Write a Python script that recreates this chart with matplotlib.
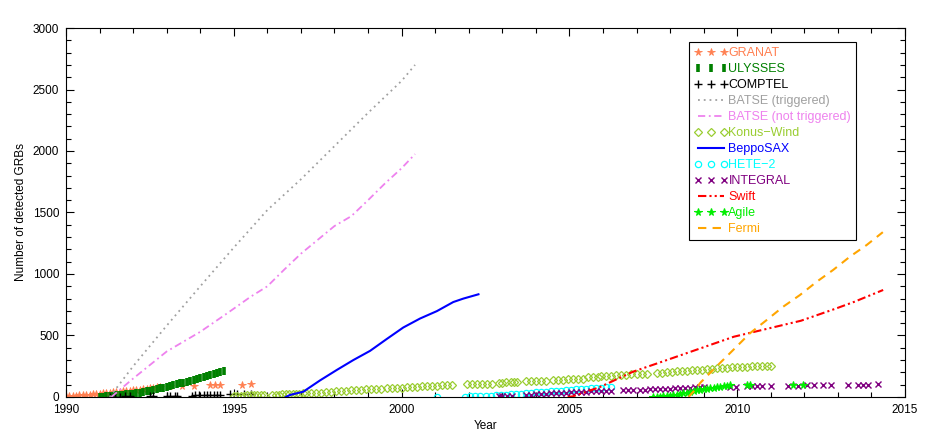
import matplotlib
matplotlib.use("Agg")
import matplotlib.pyplot as plt
from matplotlib.ticker import MultipleLocator

plt.rcParams['font.family'] = ['Liberation Sans', 'DejaVu Sans']

# GRANAT (stars)
granatYears = [1990.0, 1990.1, 1990.2, 1990.3, 1990.4, 1990.5, 1990.6, 1990.7, 1990.8, 1990.9,
               1991.0, 1991.1, 1991.2, 1991.3, 1991.4, 1991.5, 1991.6, 1991.7, 1991.8, 1991.9,
               1992.0, 1992.1, 1992.2, 1992.3, 1992.4, 1992.5, 1992.6, 1992.7, 1992.8,
               1993.1, 1993.45, 1993.8, 1994.3, 1994.45, 1994.6, 1995.25, 1995.5]
granatCounts = [5, 8, 10, 12, 14, 16, 18, 20, 22, 25,
                28, 30, 33, 35, 38, 40, 43, 45, 48, 50,
                53, 56, 59, 62, 66, 70, 74, 78, 82,
                86, 89, 92, 95, 97, 99, 101, 103]

# ULYSSES
ulyssesYears = [1991.0, 1991.1, 1991.2, 1991.3, 1991.4, 1991.5, 1991.6, 1991.7, 1991.8, 1991.9,
                1992.0, 1992.1, 1992.2, 1992.3, 1992.4, 1992.5, 1992.6, 1992.7, 1992.8, 1992.9,
                1993.0, 1993.1, 1993.2, 1993.3, 1993.4, 1993.5, 1993.6, 1993.7, 1993.8, 1993.9,
                1994.0, 1994.1, 1994.2, 1994.3, 1994.4, 1994.5, 1994.6, 1994.7]
ulyssesCounts = [1, 3, 6, 8, 11, 13, 16, 19, 21, 24,
                 27, 31, 36, 41, 46, 52, 58, 64, 70, 76,
                 83, 89, 96, 103, 110, 117, 124, 131, 138, 145,
                 152, 160, 168, 176, 184, 192, 200, 212]

# COMPTEL
comptelYears = [1991.3, 1991.45, 1991.6, 1991.75, 1991.9, 1992.5, 1992.6, 1993.0, 1993.1, 1993.25,
                1993.3, 1993.75, 1993.85, 1993.95, 1994.1, 1994.2, 1994.3, 1994.4, 1994.5, 1994.6,
                1994.9, 1995.1, 1995.3, 1995.5]
comptelCounts = [1, 2, 3, 4, 5, 6, 7, 8, 9, 10,
                 11, 12, 13, 14, 15, 16, 17, 18, 19, 20,
                 21, 22, 23, 24]

# BATSE
batseTrigYears = [1991.3, 1992.0, 1993.0, 1994.0, 1995.0, 1996.0, 1997.0, 1998.0, 1999.0, 2000.0, 2000.4]
batseTrigCounts = [0, 250, 580, 900, 1215, 1520, 1770, 2040, 2310, 2570, 2700]
batseNotTrigYears = [1991.35, 1992.0, 1993.0, 1994.0, 1994.8, 1995.5, 1996.0, 1996.5, 1997.0,
                     1998.0, 1998.5, 1999.0, 1999.5, 2000.0, 2000.4]
batseNotTrigCounts = [0, 150, 370, 530, 680, 815, 900, 1035, 1165, 1390, 1470, 1600, 1735, 1860, 1975]

# Konus-Wind
konusYears = [1995.0, 1995.1, 1995.2, 1995.3, 1995.4, 1995.5, 1995.6, 1995.7, 1995.8, 1995.9,
              1996.15, 1996.25, 1996.35, 1996.45, 1996.55, 1996.65, 1996.75, 1996.85, 1996.95, 1997.05,
              1997.15, 1997.3, 1997.45, 1997.6, 1997.75, 1997.9, 1998.05, 1998.2, 1998.35, 1998.5,
              1998.65, 1998.8, 1998.95, 1999.1, 1999.25, 1999.4, 1999.55, 1999.7, 1999.85, 2000.0,
              2000.15, 2000.3, 2000.45, 2000.6, 2000.75, 2000.9, 2001.05, 2001.2, 2001.35, 2001.5,
              2001.95, 2002.1, 2002.25, 2002.4, 2002.55, 2002.7,
              2002.9, 2003.0, 2003.1, 2003.25, 2003.35, 2003.45,
              2003.7, 2003.85, 2004.0, 2004.15, 2004.3,
              2004.5, 2004.65, 2004.8, 2004.95, 2005.1, 2005.25, 2005.4,
              2005.55, 2005.7, 2005.85,
              2005.95, 2006.1, 2006.25, 2006.4, 2006.55, 2006.7, 2006.85, 2007.0, 2007.15, 2007.3,
              2007.6, 2007.75, 2007.9, 2008.05, 2008.2, 2008.35, 2008.5, 2008.65, 2008.8, 2008.95,
              2009.1, 2009.25, 2009.4, 2009.55, 2009.7, 2009.85, 2010.0, 2010.15, 2010.3, 2010.45,
              2010.6, 2010.75, 2010.9, 2011.0]
konusCounts = [5, 8, 10, 12, 13, 14, 15, 16, 17, 18,
               18, 19, 20, 21, 22, 23, 24, 25, 27, 29,
               30, 32, 34, 36, 39, 42, 45, 48, 52, 55,
               57, 59, 61, 63, 65, 67, 70, 72, 74, 76,
               78, 80, 83, 86, 89, 91, 93, 95, 97, 99,
               103, 104, 105, 106, 107, 108,
               116, 117, 118, 123, 124, 125,
               130, 131, 132, 133, 134,
               140, 141, 142, 143, 145, 146, 147,
               160, 163, 166,
               168, 171, 174, 177, 179, 182, 184, 186, 188, 190,
               196, 199, 202, 205, 208, 211, 214, 217, 220, 223,
               226, 229, 232, 235, 238, 240, 242, 244, 246, 248,
               250, 252, 254, 255]

# BeppoSAX
beppoYears = [1996.55, 1996.67, 1997.07, 1997.57, 1998.07, 1998.56, 1999.06, 1999.56,
              2000.05, 2000.55, 2001.05, 2001.54, 2001.84, 2002.29]
beppoCounts = [0, 16, 43, 135, 220, 300, 375, 472, 565, 638, 698, 772, 800, 835]

# HETE-2
heteYears = [2001.05, 2001.9, 2002.05, 2002.2, 2002.35, 2002.5, 2002.65, 2002.8, 2002.95, 2003.1,
             2003.25, 2003.4, 2003.55, 2003.7, 2003.85, 2004.0, 2004.15, 2004.3, 2004.45, 2004.6,
             2004.75, 2004.9, 2005.05, 2005.2, 2005.35, 2005.5, 2005.65, 2005.8, 2005.95, 2006.1, 2006.25]
heteCounts = [0, 2, 4, 6, 8, 10, 12, 14, 16, 19,
              22, 25, 28, 31, 34, 37, 40, 43, 46, 49,
              52, 55, 58, 61, 64, 67, 70, 73, 76, 80, 84]

# INTEGRAL
integralYears = [2002.9, 2003.0, 2003.15, 2003.3, 2003.7, 2003.85, 2004.0, 2004.15, 2004.3, 2004.45,
                 2004.6, 2004.75, 2004.9, 2005.05, 2005.2, 2005.35, 2005.5, 2005.65, 2005.8, 2005.95,
                 2006.1, 2006.25, 2006.6, 2006.75, 2006.9, 2007.1, 2007.25, 2007.4, 2007.55, 2007.7,
                 2007.85, 2008.0, 2008.15, 2008.3, 2008.45, 2008.6, 2008.75, 2008.9, 2009.0, 2009.8,
                 2009.95, 2010.3, 2010.45, 2010.6, 2010.75, 2011.0, 2011.5, 2011.8, 2012.07, 2012.3,
                 2012.56, 2012.8, 2013.3, 2013.6, 2013.75, 2013.9, 2014.2]
integralCounts = [5, 7, 9, 11, 15, 18, 21, 24, 27, 30,
                  32, 34, 36, 38, 40, 42, 44, 46, 48, 50,
                  51, 52, 53, 54, 55, 57, 59, 61, 63, 65,
                  67, 69, 71, 73, 75, 77, 79, 81, 82, 84,
                  85, 87, 88, 89, 90, 91, 92, 93, 94, 95,
                  96, 97, 98, 99, 100, 101, 102]

# Swift
swiftYears = [2004.95, 2005.1, 2005.9, 2006.9, 2007.9, 2008.9, 2009.9, 2010.9, 2011.9, 2012.9, 2013.5, 2014.35]
swiftCounts = [0, 5, 80, 206, 300, 395, 490, 555, 620, 715, 775, 870]

# Agile
agileYears = [2007.5, 2007.6, 2007.7, 2007.8, 2007.9, 2008.0, 2008.1, 2008.2, 2008.3, 2008.4,
              2008.5, 2008.6, 2008.7, 2008.8, 2008.9, 2009.0, 2009.1, 2009.2, 2009.3, 2009.4,
              2009.5, 2009.6, 2009.7, 2009.8, 2010.28, 2010.38, 2011.67, 2011.97]
agileCounts = [0, 2, 3, 4, 6, 9, 13, 18, 24, 30,
               36, 42, 48, 54, 59, 64, 68, 72, 76, 80,
               84, 88, 91, 94, 95, 96, 97, 98]

# Fermi
fermiYears = [2008.55, 2008.75, 2008.9, 2009.39, 2009.88, 2010.38, 2010.88, 2011.37, 2011.87,
              2012.37, 2012.86, 2013.36, 2013.86, 2014.34]
fermiCounts = [0, 60, 115, 250, 382, 518, 626, 734, 829, 937, 1033, 1141, 1236, 1340]


def main():
    fig = plt.figure(figsize=(9.26, 4.41), dpi=100)
    ax = fig.add_axes([0.0713, 0.0998, 0.906, 0.8367])

    ax.plot(granatYears, granatCounts, linestyle="none", marker="*", ms=5.5, mew=0.6,
            color="#FF7F50", label="GRANAT")
    ax.plot(ulyssesYears, ulyssesCounts, linestyle="none", marker="|", ms=6, mew=2.6,
            color="#008000", label="ULYSSES")
    ax.plot(comptelYears, comptelCounts, linestyle="none", marker="+", ms=6, mew=1.0,
            color="black", label="COMPTEL")
    ax.plot(batseTrigYears, batseTrigCounts, linestyle=(0, (1, 2.2)), lw=1.3,
            color="#A0A0A0", label="BATSE (triggered)")
    ax.plot(batseNotTrigYears, batseNotTrigCounts, linestyle=(0, (4, 2, 1, 2)), lw=1.3,
            color="#EE82EE", label="BATSE (not triggered)")
    ax.plot(konusYears, konusCounts, linestyle="none", marker="D", ms=3.6, mew=0.9,
            mfc="none", color="#9ACD32", label="Konus\u2212Wind")
    ax.plot(beppoYears, beppoCounts, linestyle="-", lw=1.5, color="#0000FF", label="BeppoSAX")
    ax.plot(heteYears, heteCounts, linestyle="none", marker="o", ms=4.5, mew=0.9,
            mfc="none", color="#00FFFF", label="HETE\u22122")
    ax.plot(integralYears, integralCounts, linestyle="none", marker="x", ms=5, mew=1.0,
            color="#800080", label="INTEGRAL")
    ax.plot(swiftYears, swiftCounts, linestyle=(0, (4, 1.5, 1, 1.5, 1, 1.5)), lw=1.5,
            color="#FF0000", label="Swift")
    ax.plot(agileYears, agileCounts, linestyle="none", marker="*", ms=5.5, mew=0.8,
            color="#00EE00", label="Agile")
    ax.plot(fermiYears, fermiCounts, linestyle=(0, (4, 3)), lw=1.5,
            color="#FFA500", label="Fermi")

    ax.set_xlim(1990, 2015)
    ax.set_ylim(0, 3000)
    ax.xaxis.set_major_locator(MultipleLocator(5))
    ax.xaxis.set_minor_locator(MultipleLocator(1))
    ax.yaxis.set_major_locator(MultipleLocator(500))
    ax.yaxis.set_minor_locator(MultipleLocator(100))
    ax.tick_params(which="both", direction="in", top=True, right=True, labelsize=8.5)
    ax.tick_params(which="major", length=6, width=0.8)
    ax.tick_params(which="minor", length=3.5, width=0.8)
    ax.tick_params(axis="x", pad=5)
    ax.tick_params(axis="y", pad=5)
    for spine in ax.spines.values():
        spine.set_linewidth(0.8)

    ax.set_xlabel("Year", fontsize=8.5, labelpad=3)
    ax.set_ylabel("Number of detected GRBs", fontsize=8.5, labelpad=4)

    leg = ax.legend(loc="upper left", bbox_to_anchor=(0.7426, 0.962), fontsize=9,
                    numpoints=3, handlelength=2.7, handletextpad=0.05,
                    labelspacing=0.32, borderpad=0.4, borderaxespad=0.0,
                    fancybox=False, edgecolor="black", framealpha=1.0)
    leg.get_frame().set_linewidth(0.8)
    for text, line in zip(leg.get_texts(), leg.get_lines()):
        text.set_color(line.get_color())

    fig.savefig("out.png", dpi=100)


if __name__ == "__main__":
    main()
